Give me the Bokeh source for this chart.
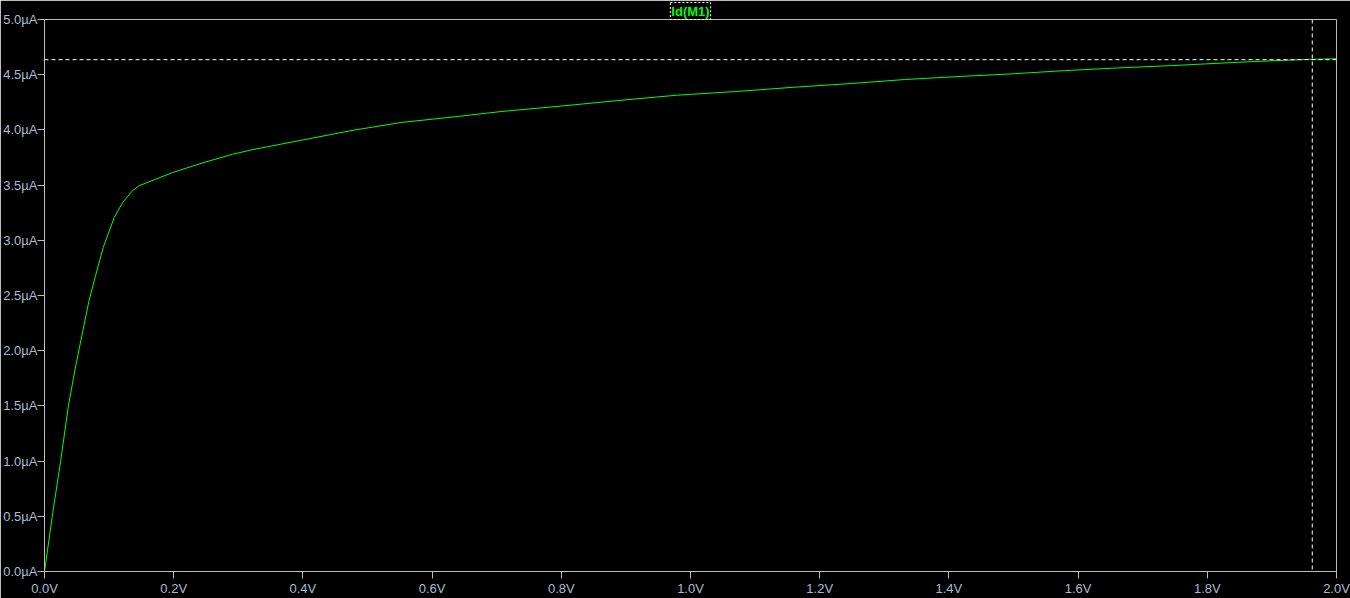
from bokeh.plotting import figure
from bokeh.models import FixedTicker, PrintfTickFormatter, Span, Title
from bokeh.embed import file_html
from bokeh.resources import INLINE

# Drain voltage (V) and drain current Id(M1) (µA)
vds = [0.0, 0.002, 0.012, 0.025, 0.037, 0.048, 0.059, 0.069, 0.079, 0.091,
       0.108, 0.121, 0.136, 0.146, 0.172, 0.198, 0.244, 0.291, 0.322, 0.399,
       0.476, 0.553, 0.631, 0.708, 0.798, 0.888, 0.978, 1.069, 1.159, 1.249,
       1.331, 1.414, 1.496, 1.579, 1.661, 1.743, 1.867, 1.944, 2.0]
id_m1 = [0.0, 0.08, 0.5, 1.0, 1.5, 1.853, 2.169, 2.455, 2.68, 2.936,
         3.207, 3.342, 3.448, 3.493, 3.553, 3.613, 3.700, 3.779, 3.821, 3.908,
         3.995, 4.068, 4.116, 4.167, 4.215, 4.266, 4.314, 4.347, 4.386, 4.420,
         4.456, 4.483, 4.507, 4.537, 4.561, 4.582, 4.618, 4.636, 4.645]

x_ticks = [0.0, 0.2, 0.4, 0.6, 0.8, 1.0, 1.2, 1.4, 1.6, 1.8, 2.0]
y_ticks = [0.0, 0.5, 1.0, 1.5, 2.0, 2.5, 3.0, 3.5, 4.0, 4.5, 5.0]
cursor_v = 1.9625
cursor_i = 4.636
trace_name = "Id(M1)"

AXIS = "#bdbdbd"
TXT = "#a8bdd3"
GREEN = "#00ff00"

title = Title(text=trace_name, align="center", text_color=GREEN,
              text_font="Liberation Sans", text_font_style="bold",
              text_font_size="13px", standoff=0, offset=0,
              border_line_color="white", border_line_dash="2 2", padding=1)

p = figure(width=1350, height=598, x_range=(0, 2), y_range=(0, 5),
           output_backend="svg", toolbar_location=None, title=title,
           background_fill_color="black", border_fill_color="black",
           min_border_left=40, min_border_right=14, min_border_top=18,
           min_border_bottom=0)
p.outline_line_color = AXIS
p.outline_line_width = 1
p.xgrid.visible = False
p.ygrid.visible = False

for ax, ticks, fmt in ((p.xaxis[0], x_ticks, "%.1fV"), (p.yaxis[0], y_ticks, "%.1fµA")):
    ax.ticker = FixedTicker(ticks=ticks)
    ax.formatter = PrintfTickFormatter(format=fmt)
    ax.axis_label = None
    ax.axis_line_color = AXIS
    ax.major_tick_line_color = AXIS
    ax.major_tick_out = 7
    ax.major_tick_in = 0
    ax.minor_tick_line_color = None
    ax.major_label_text_color = TXT
    ax.major_label_text_font = "Liberation Sans"
    ax.major_label_text_font_size = "13px"
    ax.axis_label_standoff = 0
p.xaxis.major_label_standoff = 2
p.yaxis.major_label_standoff = 0

p.line(vds, id_m1, line_color=GREEN, line_width=1)

p.add_layout(Span(location=cursor_i, dimension="width", line_color="white",
                  line_dash="4 3", line_width=1))
p.add_layout(Span(location=cursor_v, dimension="height", line_color="white",
                  line_dash="4 3", line_width=1))

open("out.html", "w").write(file_html(p, INLINE))
